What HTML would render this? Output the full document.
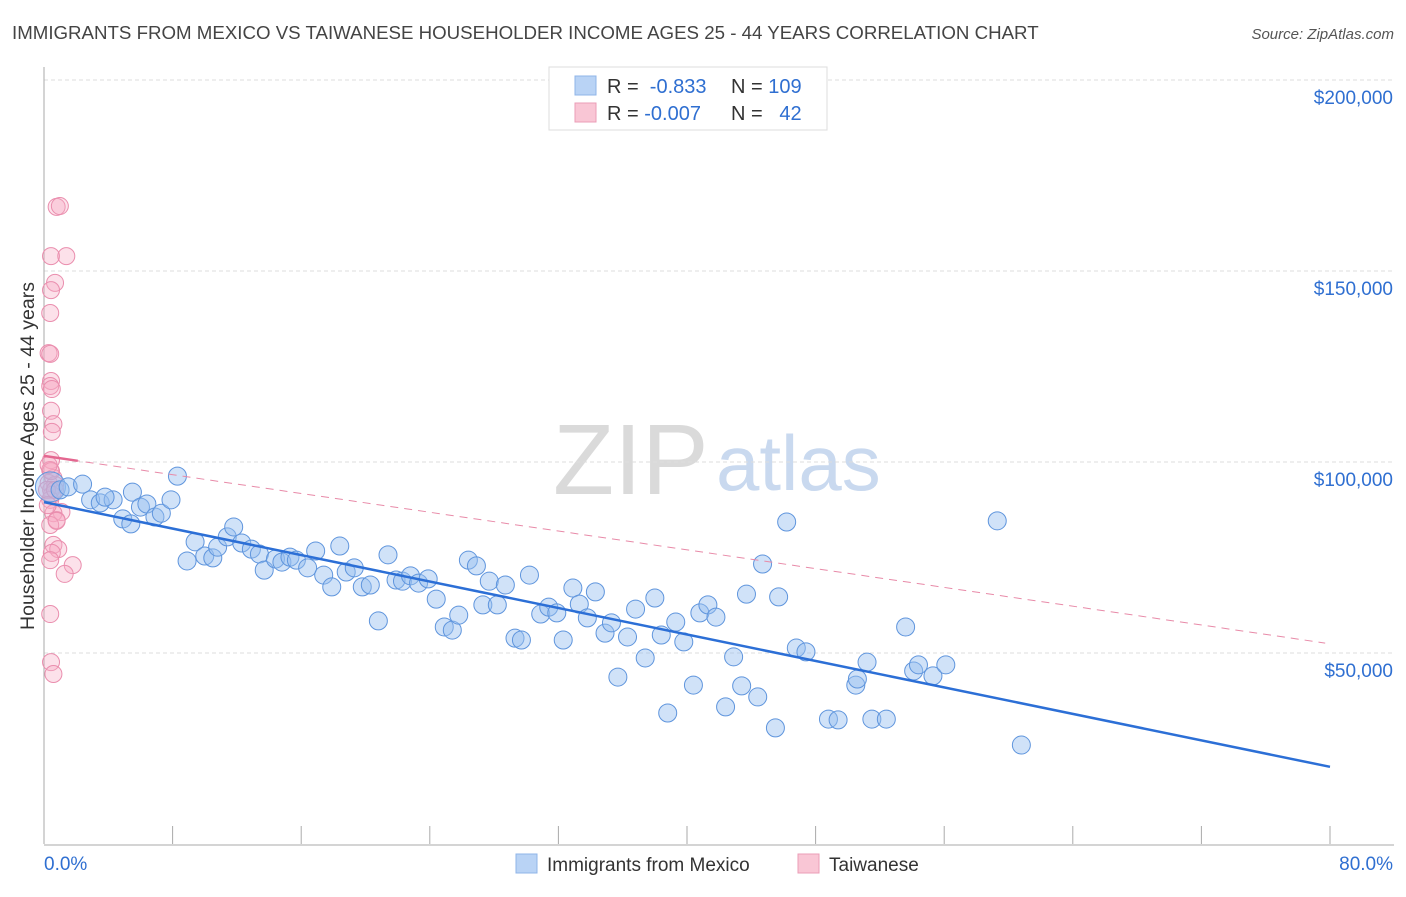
<!DOCTYPE html>
<html><head><meta charset="utf-8"><style>
body{margin:0;background:#fff;font-family:"Liberation Sans",sans-serif;}
svg text{font-family:"Liberation Sans",sans-serif;}
</style></head><body>
<svg id="chart" width="1406" height="892" xmlns="http://www.w3.org/2000/svg">
<text x="12" y="39" font-size="18.7" fill="#444">IMMIGRANTS FROM MEXICO VS TAIWANESE HOUSEHOLDER INCOME AGES 25 - 44 YEARS CORRELATION CHART</text>
<text x="1394" y="39" font-size="15" fill="#555" text-anchor="end" font-style="italic">Source: ZipAtlas.com</text>
<g>
<text x="553" y="494" font-size="100" fill="#dadada" font-family="Liberation Serif">ZIP</text>
<text x="716" y="490" font-size="78" fill="#c9d9ef">atlas</text>
</g>
<g id="grid"></g>
<g id="axes"></g>
<g id="marks"></g>
<g id="lines"></g>
<text transform="translate(34,456) rotate(-90)" font-size="19.5" fill="#333" text-anchor="middle">Householder Income Ages 25 - 44 years</text>
<g>
<rect x="549" y="67" width="278" height="63" fill="#fff" stroke="#ddd"/>
<rect x="575" y="76" width="21" height="19" fill="#b9d3f5" stroke="#8fb5e8"/>
<rect x="575" y="103" width="21" height="19" fill="#f9c6d5" stroke="#eb9db7"/>
<text x="607" y="93" font-size="20" fill="#333">R = <tspan fill="#2f6fd1">&#160;-0.833</tspan><tspan x="731">N = </tspan><tspan fill="#2f6fd1">109</tspan></text>
<text x="607" y="120" font-size="20" fill="#333">R = <tspan fill="#2f6fd1">-0.007</tspan><tspan x="731">N = </tspan><tspan fill="#2f6fd1">&#160;&#160;42</tspan></text>
</g>
<g>
<rect x="516" y="854" width="21" height="19" fill="#b9d3f5" stroke="#8fb5e8"/>
<text x="547" y="871" font-size="19" fill="#333">Immigrants from Mexico</text>
<rect x="798" y="854" width="21" height="19" fill="#f9c6d5" stroke="#eb9db7"/>
<text x="829" y="871" font-size="19" fill="#333">Taiwanese</text>
</g>
</svg>
<script>
const yTicks=[50000,100000,150000,200000];
const yTickLabels=["$50,000","$100,000","$150,000","$200,000"];
const xTicks=[0,8,16,24,32,40,48,56,64,72,80];
const mexicoX=[0.4,1.0,1.5,2.4,2.9,3.5,4.3,3.8,5.5,4.9,5.4,6.0,6.4,6.9,7.3,7.9,8.3,8.9,9.4,10.0,10.5,10.8,11.4,11.8,12.3,12.9,13.4,13.7,14.4,14.8,15.3,15.7,16.4,16.9,17.4,17.9,18.4,18.8,19.3,19.8,20.3,20.8,21.4,21.9,22.3,22.8,23.3,23.9,24.4,24.9,25.4,25.8,26.4,26.9,27.3,27.7,28.2,28.7,29.3,29.7,30.2,30.9,31.4,31.9,32.3,32.9,33.3,33.8,34.3,34.9,35.3,35.7,36.3,36.8,37.4,38.0,38.4,38.8,39.3,39.8,40.4,40.8,41.3,41.8,42.4,42.9,43.4,43.7,44.4,44.7,45.5,45.7,46.2,46.8,47.4,48.8,49.4,50.5,50.6,51.2,51.5,52.4,53.6,54.1,54.4,55.3,56.1,59.3,60.8];
const mexicoY=[93.5,92.7,93.5,94.2,90.1,89.3,90.1,90.8,92.1,85.1,83.8,88.2,89.0,85.6,86.6,90.1,96.3,74.1,79.1,75.4,74.9,77.7,80.4,83.0,78.8,77.2,75.9,71.7,74.6,73.8,75.1,74.3,72.3,76.7,70.4,67.3,78.0,71.2,72.3,67.3,67.8,58.4,75.7,69.1,68.8,70.2,68.3,69.4,64.1,56.8,56.0,59.9,74.3,72.8,62.6,68.8,62.6,67.8,53.9,53.4,70.4,60.2,62.0,60.5,53.4,67.0,62.8,59.2,66.0,55.2,57.9,43.7,54.2,61.5,48.7,64.4,54.7,34.3,58.1,52.9,41.6,60.5,62.6,59.4,35.9,49.0,41.4,65.4,38.5,73.3,30.4,64.7,84.3,51.3,50.3,32.7,32.5,41.6,43.2,47.6,32.7,32.7,56.8,45.3,46.9,44.0,46.9,84.6,25.9];
const taiwanX=[0.6,0.8,0.25,1.2,0.5,0.25,0.2,0.1,0.2,0.25,0.2,0.3,0.25,0.4,0.3,0.25,0.2,0.4,0.1,0.5,0.25,0.3,0.2,0.9,0.4,0.6,0.2,0.6,0.4,0.7,0.3,0.2,1.6,1.1,0.2,0.25,0.4,0.0,0.05,0.25,0.1,0.5];
const taiwanY=[166.8,167.0,153.9,153.9,146.9,145.0,139.0,128.5,128.3,121.2,119.9,119.1,113.4,109.9,107.9,100.5,97.9,95.8,94.5,94.0,92.7,91.4,90.1,86.9,86.6,84.8,83.5,84.6,78.3,77.2,76.2,74.3,73.0,70.7,60.2,47.6,44.5,92.7,88.7,97.6,99.2,92.7];
const mexicoTrend=[[0,89.5],[80,20.2]];
const taiwanTrend=[[0,101.6],[79.7,52.6]];
const NS="http://www.w3.org/2000/svg";
const X0=44,X1=1330,Y0=844,PXK=191/50;
function sx(v){return X0+(v/80)*(X1-X0);}
function sy(k){return Y0-k*PXK;}
function mk(tag,attrs,parent){const e=document.createElementNS(NS,tag);for(const k in attrs)e.setAttribute(k,attrs[k]);parent.appendChild(e);return e;}
const grid=document.getElementById('grid'),axes=document.getElementById('axes'),marks=document.getElementById('marks'),lines=document.getElementById('lines');
yTicks.forEach((t,i)=>{
 const l=mk('line',{x1:X0,x2:1394,y1:sy(t/1000),y2:sy(t/1000),stroke:'#ddd','stroke-dasharray':'4,3'},grid);
 
 
 const tx=mk('text',{x:1393,y:sy(t/1000)+24,'font-size':19,fill:'#2f6fd1','text-anchor':'end'},axes);
 tx.textContent=yTickLabels[i];
 
 
});
const ya=mk('line',{x1:X0,x2:X0,y1:67,y2:Y0,stroke:'#aaa'},axes);


const xa=mk('line',{x1:X0,x2:1394,y1:Y0+1,y2:Y0+1,stroke:'#aaa'},axes);


xTicks.forEach(t=>{
 const l=mk('line',{x1:sx(t),x2:sx(t),y1:826,y2:Y0,stroke:'#aaa'},axes);
 
 
});
const xl0=mk('text',{x:44,y:870,'font-size':19,fill:'#2f6fd1'},axes);xl0.textContent='0.0%';


const xl1=mk('text',{x:1393,y:870,'font-size':19,fill:'#2f6fd1','text-anchor':'end'},axes);xl1.textContent='80.0%';


taiwanX.forEach((x,i)=>{
 const c=mk('circle',{cx:sx(x)+3,cy:sy(taiwanY[i]),r:8.5,fill:'rgba(247,170,195,0.35)',stroke:'#ea8eae','stroke-width':1},marks);
 
 
});
mexicoX.forEach((x,i)=>{
 const c=mk('circle',{cx:sx(x),cy:sy(mexicoY[i]),r:i==0?15:9,fill:'rgba(150,190,240,0.45)',stroke:'#5f95dd','stroke-width':1},marks);
 
 
});
const bl=mk('line',{x1:sx(mexicoTrend[0][0]),y1:sy(mexicoTrend[0][1]),x2:sx(mexicoTrend[1][0]),y2:sy(mexicoTrend[1][1]),stroke:'#2c6fd6','stroke-width':2.5},lines);


const pd=mk('line',{x1:sx(taiwanTrend[0][0]),y1:sy(taiwanTrend[0][1]),x2:sx(taiwanTrend[1][0]),y2:sy(taiwanTrend[1][1]),stroke:'#e88aa8','stroke-width':1,'stroke-dasharray':'8,6'},lines);


const t0=taiwanTrend[0],t1=taiwanTrend[1],xe=2.1,ye=t0[1]+(t1[1]-t0[1])*xe/t1[0];
const ps=mk('line',{x1:sx(t0[0]),y1:sy(t0[1]),x2:sx(xe),y2:sy(ye),stroke:'#e46790','stroke-width':2.5},lines);


</script>
</body></html>
